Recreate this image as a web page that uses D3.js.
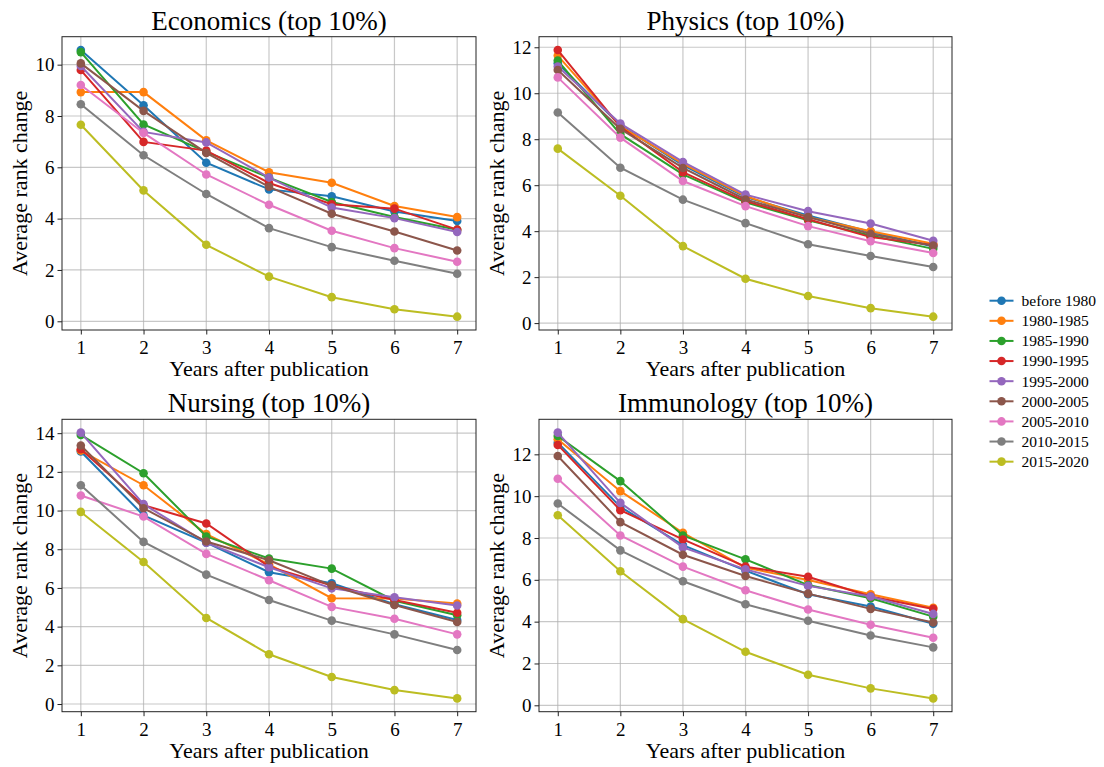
<!DOCTYPE html>
<html>
<head>
<meta charset="utf-8">
<script src="https://cdn.jsdelivr.net/npm/d3@7"></script>
<style>
  html, body { margin: 0; padding: 0; background: #fff; }
  svg { display: block; }
  text { font-family: "Liberation Serif", "Times New Roman", serif; fill: #000; }
</style>
</head>
<body>
<svg id="chart" width="1104" height="767"></svg>
<script>
// Years after publication (x axis)
const years = [1, 2, 3, 4, 5, 6, 7];

// Publication periods, one line per period
const periods = ["before 1980", "1980-1985", "1985-1990", "1990-1995", "1995-2000",
                 "2000-2005", "2005-2010", "2010-2015", "2015-2020"];

const colors = ["#1f77b4", "#ff7f0e", "#2ca02c", "#d62728", "#9467bd",
                "#8c564b", "#e377c2", "#7f7f7f", "#bcbd22"];

// Average rank change per period, years 1..7
const economics = [
  [10.57, 8.42, 6.18, 5.14, 4.87, 4.28, 3.91],
  [8.93, 8.93, 7.05, 5.81, 5.40, 4.49, 4.06],
  [10.49, 7.67, 6.60, 5.60, 4.65, 4.06, 3.57],
  [9.79, 6.99, 6.65, 5.39, 4.56, 4.39, 3.57],
  [9.95, 7.38, 6.97, 5.60, 4.43, 4.02, 3.48],
  [10.05, 8.20, 6.56, 5.24, 4.19, 3.50, 2.76],
  [9.21, 7.34, 5.72, 4.54, 3.53, 2.85, 2.32],
  [8.46, 6.47, 4.96, 3.63, 2.89, 2.36, 1.85],
  [7.66, 5.10, 2.98, 1.74, 0.94, 0.47, 0.18]
];

const physics = [
  [11.30, 8.60, 6.87, 5.48, 4.68, 3.96, 3.33],
  [11.64, 8.56, 6.94, 5.53, 4.61, 4.00, 3.45],
  [11.42, 8.22, 6.47, 5.25, 4.47, 3.81, 3.23],
  [11.88, 8.54, 6.57, 5.31, 4.52, 3.74, 3.40],
  [11.16, 8.68, 7.01, 5.59, 4.87, 4.33, 3.58],
  [11.01, 8.45, 6.75, 5.38, 4.61, 3.88, 3.37],
  [10.69, 8.07, 6.18, 5.09, 4.22, 3.56, 3.05],
  [9.16, 6.76, 5.37, 4.35, 3.43, 2.92, 2.44],
  [7.59, 5.54, 3.35, 1.93, 1.18, 0.65, 0.28]
];

const nursing = [
  [13.05, 9.75, 8.34, 6.81, 6.24, 5.16, 4.34],
  [13.10, 11.31, 8.78, 7.22, 5.47, 5.45, 5.19],
  [13.91, 11.93, 8.66, 7.52, 7.00, 5.34, 4.59],
  [13.17, 10.28, 9.33, 7.10, 6.12, 5.38, 4.72],
  [14.03, 10.33, 8.34, 7.07, 5.98, 5.52, 5.09],
  [13.36, 10.12, 8.40, 7.43, 6.12, 5.12, 4.24],
  [10.78, 9.69, 7.76, 6.40, 5.02, 4.41, 3.60],
  [11.31, 8.38, 6.69, 5.38, 4.31, 3.60, 2.79],
  [9.93, 7.34, 4.45, 2.57, 1.40, 0.72, 0.29]
];

const immunology = [
  [12.56, 9.49, 7.66, 6.44, 5.31, 4.72, 3.90],
  [12.72, 10.24, 8.25, 6.58, 5.99, 5.31, 4.66],
  [12.88, 10.72, 8.12, 6.98, 5.75, 5.12, 4.24],
  [12.45, 9.33, 7.93, 6.63, 6.15, 5.20, 4.61],
  [13.04, 9.68, 7.55, 6.50, 5.71, 5.20, 4.37],
  [11.92, 8.76, 7.20, 6.18, 5.34, 4.61, 3.96],
  [10.83, 8.12, 6.63, 5.50, 4.58, 3.85, 3.23],
  [9.65, 7.41, 5.93, 4.83, 4.04, 3.34, 2.77],
  [9.09, 6.41, 4.12, 2.56, 1.46, 0.81, 0.33]
];

const panelTitles = ["Economics (top 10%)", "Physics (top 10%)", "Nursing (top 10%)", "Immunology (top 10%)"];
const panelData = [economics, physics, nursing, immunology];
const yTickValues = [
  [0, 2, 4, 6, 8, 10],
  [0, 2, 4, 6, 8, 10, 12],
  [0, 2, 4, 6, 8, 10, 12, 14],
  [0, 2, 4, 6, 8, 10, 12]
];
const xLabel = "Years after publication";
const yLabel = "Average rank change";

// Subplot frames
const frames = [
  { x0: 62, x1: 476, y0: 36.7, y1: 330 },
  { x0: 539, x1: 952, y0: 36.7, y1: 330 },
  { x0: 62, x1: 476, y0: 419.3, y1: 711.7 },
  { x0: 539, x1: 952, y0: 419.3, y1: 711.7 }
];

const svg = d3.select("#chart");

// matplotlib-style 5% margins around the data range
function paddedDomain(lo, hi) {
  const pad = (hi - lo) * 0.05;
  return [lo - pad, hi + pad];
}

panelData.forEach((data, i) => {
  const f = frames[i];
  const x = d3.scaleLinear().domain(paddedDomain(d3.min(years), d3.max(years))).range([f.x0, f.x1]);
  const allVals = data.flat();
  const y = d3.scaleLinear().domain(paddedDomain(d3.min(allVals), d3.max(allVals))).range([f.y1, f.y0]);

  const g = svg.append("g");

  // grid
  g.append("g").selectAll("line").data(years).join("line")
    .attr("x1", d => x(d)).attr("x2", d => x(d))
    .attr("y1", f.y0).attr("y2", f.y1)
    .attr("stroke", "#b0b0b0").attr("stroke-opacity", 0.7).attr("stroke-width", 1.2);
  g.append("g").selectAll("line").data(yTickValues[i]).join("line")
    .attr("x1", f.x0).attr("x2", f.x1)
    .attr("y1", d => y(d)).attr("y2", d => y(d))
    .attr("stroke", "#b0b0b0").attr("stroke-opacity", 0.7).attr("stroke-width", 1.2);

  // axes
  const xAxis = d3.axisBottom(x).tickValues(years).tickFormat(d3.format("d")).tickSizeOuter(0).tickSize(4.5).tickPadding(6);
  const yAxis = d3.axisLeft(y).tickValues(yTickValues[i]).tickFormat(d3.format("d")).tickSizeOuter(0).tickSize(4.5).tickPadding(3);

  const gx = g.append("g").attr("transform", `translate(0,${f.y1})`).call(xAxis);
  const gy = g.append("g").attr("transform", `translate(${f.x0},0)`).call(yAxis);
  [gx, gy].forEach(ax => {
    ax.select(".domain").remove();
    ax.selectAll(".tick line").attr("stroke", "#222").attr("stroke-width", 1);
    ax.selectAll(".tick text").attr("font-size", 19).attr("fill", "#000")
      .style("font-family", "'Liberation Serif', serif");
  });

  // series
  const line = d3.line().x((d, j) => x(years[j])).y(d => y(d));
  data.forEach((series, s) => {
    g.append("path").datum(series)
      .attr("d", line)
      .attr("fill", "none")
      .attr("stroke", colors[s])
      .attr("stroke-width", 2);
    g.append("g").selectAll("circle").data(series).join("circle")
      .attr("cx", (d, j) => x(years[j]))
      .attr("cy", d => y(d))
      .attr("r", 4.3)
      .attr("fill", colors[s]);
  });

  // frame
  g.append("rect")
    .attr("x", f.x0).attr("y", f.y0)
    .attr("width", f.x1 - f.x0).attr("height", f.y1 - f.y0)
    .attr("fill", "none").attr("stroke", "#222").attr("stroke-width", 1);

  // title and axis labels
  g.append("text")
    .attr("x", (f.x0 + f.x1) / 2).attr("y", f.y0 - 7)
    .attr("text-anchor", "middle").attr("font-size", 27)
    .text(panelTitles[i]);
  g.append("text")
    .attr("x", (f.x0 + f.x1) / 2).attr("y", f.y1 + 46)
    .attr("text-anchor", "middle").attr("font-size", 22)
    .text(xLabel);
  g.append("text")
    .attr("transform", `translate(${f.x0 - 35},${(f.y0 + f.y1) / 2}) rotate(-90)`)
    .attr("text-anchor", "middle").attr("font-size", 22)
    .text(yLabel);
});

// legend
const legend = svg.append("g");
periods.forEach((p, s) => {
  const cy = 300.7 + s * 20.12;
  legend.append("line")
    .attr("x1", 989.5).attr("x2", 1013.5).attr("y1", cy).attr("y2", cy)
    .attr("stroke", colors[s]).attr("stroke-width", 2);
  legend.append("circle").attr("cx", 1001.5).attr("cy", cy).attr("r", 4.3).attr("fill", colors[s]);
  legend.append("text")
    .attr("x", 1021.5).attr("y", cy).attr("dy", "0.35em")
    .attr("font-size", 15.5)
    .text(p);
});
</script>
</body>
</html>
